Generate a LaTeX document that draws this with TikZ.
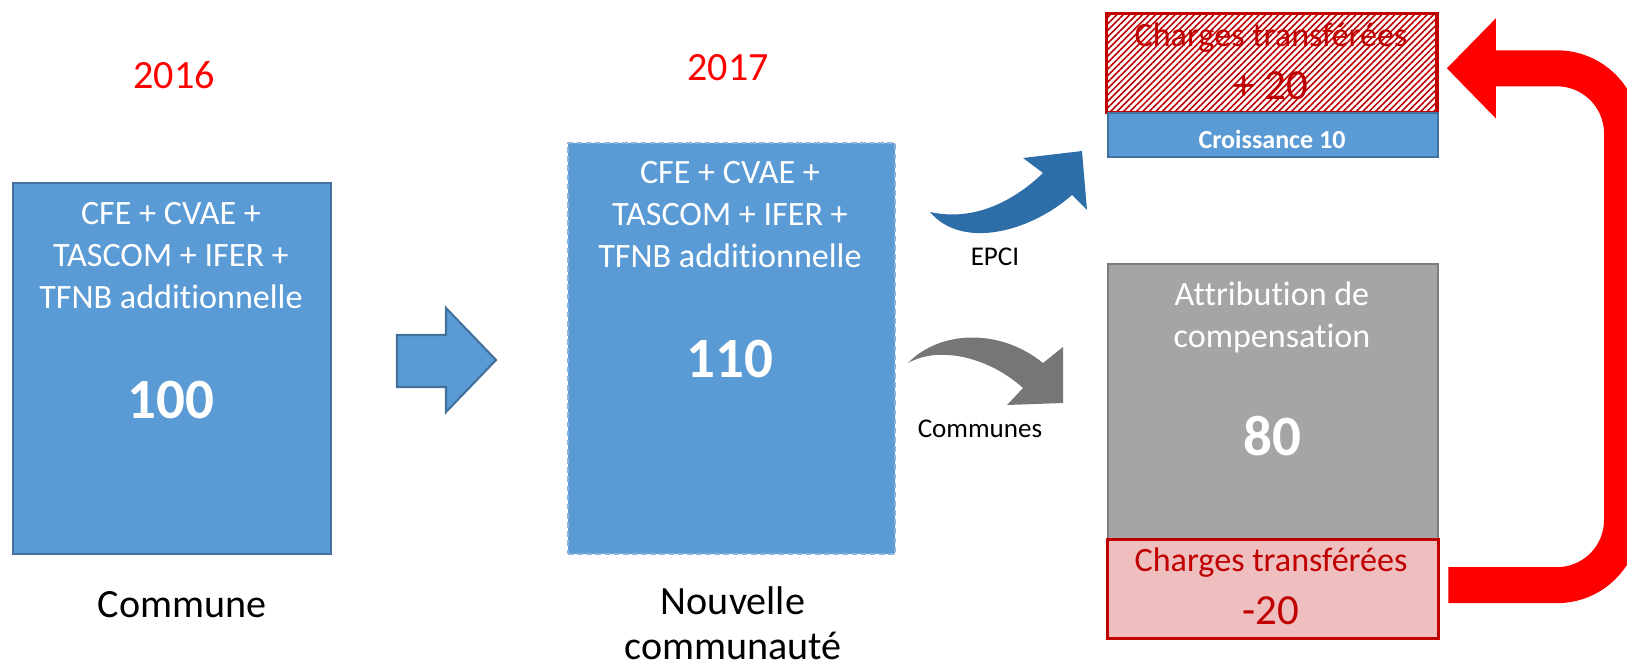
\documentclass[tikz,border=0pt]{standalone}
\usepackage{fontspec}
\setmainfont[Ligatures=NoCommon]{Carlito}
\usetikzlibrary{arrows.meta,patterns.meta,calc}

\definecolor{boxblue}{RGB}{91,155,213}
\definecolor{boxedge}{RGB}{65,113,156}
\definecolor{dashedge}{RGB}{140,178,222}
\definecolor{epciblue}{RGB}{46,110,168}
\definecolor{arrowgray}{RGB}{118,118,118}
\definecolor{acgray}{RGB}{165,165,165}
\definecolor{acedge}{RGB}{125,125,125}
\definecolor{darkred}{RGB}{192,0,0}
\definecolor{pinkfill}{RGB}{239,190,190}

\newcommand{\boxfont}{\fontsize{9.7}{11.9}\selectfont}
\newcommand{\bignum}{\fontsize{16.2}{19}\selectfont\bfseries}
\newcommand{\labfont}{\fontsize{11.4}{12.8}\selectfont}
\newcommand{\chgnum}{\fontsize{12.2}{14}\selectfont}

\tikzset{
  taxbox/.style={draw=boxedge, fill=boxblue, line width=0.6pt, anchor=north west, inner sep=0pt},
  boxtext/.style={text=white, align=center, font=\boxfont, inner sep=0pt, anchor=base},
  chgbox/.style={draw=darkred, line width=0.9pt, anchor=north west, inner sep=0pt,
    minimum width=3.3cm, minimum height=0.99cm},
  chgtext/.style={text=darkred, inner sep=0pt, anchor=base},
  yearlabel/.style={text=red, font=\labfont, inner sep=0pt, anchor=base},
  redloop/.style={draw=red, line width=3.6mm, rounded corners=6.5mm,
    -{Triangle[length=4.9mm,width=9.7mm]}}
}

\begin{document}
\begin{tikzpicture}[x=0.01cm, y=-0.01cm]
    \useasboundingbox (0,0) rectangle (1627,666);
    \clip (0,0) rectangle (1627,666);

    % Years
    \node[yearlabel] (y16) at (174,88) {2016};
    \node[yearlabel] (y17) at (728,80) {2017};

    % Commune 2016 (base = last line)
    \node[taxbox, minimum width=3.18cm, minimum height=3.71cm] (commune) at (12,182) {};
    \node[boxtext] (t16) at (171,308) {CFE + CVAE +\\TASCOM + IFER +\\TFNB additionnelle};
    \node[boxtext, font=\bignum] (v16) at (171,418) {100};
    \node[inner sep=0pt, anchor=base, font=\labfont] (l16) at (182,617) {Commune};

    % Step arrow
    \filldraw[fill=boxblue, draw=boxedge, line width=0.6pt]
      (397,335) -- (446,335) -- (446,308) -- (496,360) -- (446,412) -- (446,387) -- (397,387) -- cycle;

    % Nouvelle communaute 2017
    \node[taxbox, draw=dashedge, dash pattern=on 1.6pt off 1pt, minimum width=3.27cm, minimum height=4.11cm] (epci) at (567,142) {};
    \node[boxtext] (t17) at (730,267) {CFE + CVAE +\\TASCOM + IFER +\\TFNB additionnelle};
    \node[boxtext, font=\bignum] (v17) at (730,377) {110};
    \node[inner sep=0pt, anchor=base, align=center, font=\labfont] (l17) at (733,659) {Nouvelle\\communauté};

    % Split arrows
    \fill[epciblue] (930,212) .. controls (975,222) and (1015,200) .. (1043,173) -- (1023,158) -- (1082,151)
      -- (1087,210) -- (1072,195) .. controls (1030,232) and (962,250) .. (930,212) -- cycle;
    \node[inner sep=0pt, anchor=base, font=\fontsize{7.7}{9}\selectfont] (lepci) at (995,265) {EPCI};
    \fill[arrowgray] (908,363) .. controls (940,330) and (1000,328) .. (1043,363) -- (1063,347) -- (1063,403)
      -- (1007,405) -- (1023,388) .. controls (990,358) and (940,345) .. (908,363) -- cycle;
    \node[inner sep=0pt, anchor=base, font=\fontsize{7.7}{9}\selectfont] (lcom) at (980,437) {Communes};

    % EPCI share
    \node[chgbox, pattern={Lines[angle=45,distance=1.3pt,line width=0.45pt]}, pattern color=darkred] (hatch) at (1106,13) {};
    \node[chgtext, font=\boxfont] (h1) at (1271,46) {Charges transférées};
    \node[chgtext, font=\chgnum] (h2) at (1271,99) {+ 20};
    \node[taxbox, minimum width=3.3cm, minimum height=0.44cm] (crois) at (1107,112) {};
    \node[boxtext, font=\fontsize{7.4}{9}\selectfont\bfseries] (c1) at (1272,148) {Croissance 10};

    % Communes share
    \node[taxbox, draw=acedge, fill=acgray, minimum width=3.3cm, minimum height=2.75cm] (ac) at (1107,263) {};
    \node[boxtext] (a1) at (1272,347) {Attribution de\\compensation};
    \node[boxtext, font=\bignum] (a2) at (1272,455) {80};
    \node[chgbox, fill=pinkfill, minimum width=3.31cm] (charg) at (1106,538) {};
    \node[chgtext, font=\boxfont] (p1) at (1271,571) {Charges transférées};
    \node[chgtext, font=\chgnum] (p2) at (1271,624) {-20};

    % Transfer loop
    \coordinate (rturn) at (1622,0);
    \coordinate (rstart) at ($(charg.east)+(8,-4)$);
    \coordinate (rend) at ($(hatch.east)+(9,5)$);
    \draw[redloop] (rstart) -- (rstart -| rturn) -- (rend -| rturn) -- (rend);
\end{tikzpicture}
\end{document}
